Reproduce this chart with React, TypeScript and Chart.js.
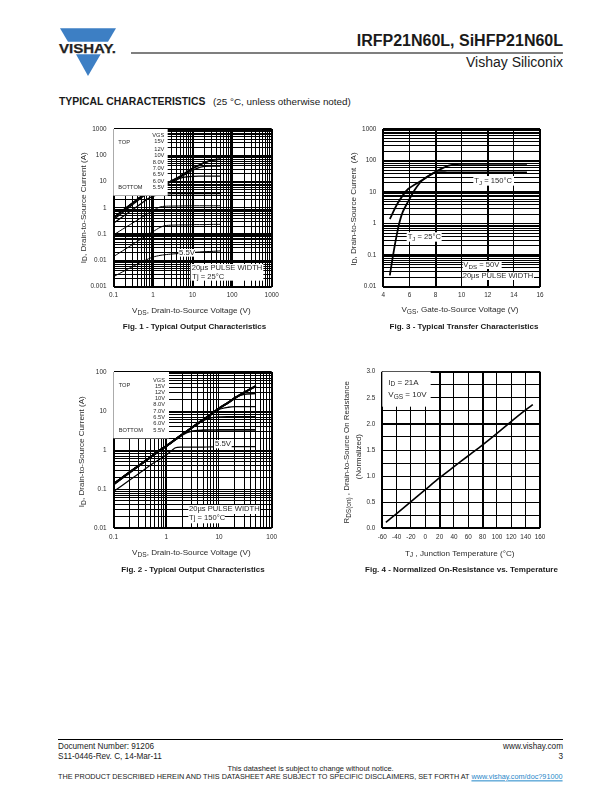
import React, { useEffect, useRef } from "react";
import { Chart, registerables } from "chart.js";

Chart.register(...registerables);

const FONT = '"Liberation Sans", Arial, sans-serif';

// ---------- Fig. 1 ----------
const fig1Vds = [0.1, 0.2, 0.3, 0.5, 0.7, 1, 1.5, 2, 3, 5, 7, 10, 15, 20, 30, 50];
const fig1V55 = [0.0024, 0.0042, 0.0058, 0.0085, 0.0108, 0.0135, 0.0155, 0.0165, 0.0175, 0.0185, 0.019, 0.02, 0.021, 0.0215, 0.022, 0.023];
const fig1V60 = [0.014, 0.027, 0.04, 0.065, 0.09, 0.125, 0.18, 0.21, 0.22, 0.225, 0.225, 0.23, 0.23, 0.23, 0.235, 0.235];
const fig1V65 = [0.093, 0.18, 0.26, 0.42, 0.58, 0.8, 1.08, 1.15, 1.17, 1.18, 1.19, 1.2, 1.2, 1.2, 1.2, 1.2];
const fig1V70 = [0.26, 0.55, 0.85, 1.45, 2.1, 2.8, 3.2, 3.35, 3.45, 3.5, 3.5, 3.5, 3.5, 3.5, 3.5, 3.5];
const fig1V80 = [0.36, 0.8, 1.3, 2.4, 3.4, 4.7, 6.4, 7.8, 10, 13.5, 15, 15.8, 16, 16, 16, 16];
const fig1V10 = [0.42, 0.95, 1.5, 2.7, 3.8, 5, 6.8, 7.9, 10.5, 15, 20, 27, 35, 38, 39, 39];
const fig1V12 = [0.42, 0.95, 1.5, 2.7, 3.8, 5, 6.8, 8, 10.8, 16, 22, 31, 42, 51, 63, 70];
const fig1V15 = [0.42, 0.95, 1.5, 2.7, 3.8, 5, 6.8, 8, 10.9, 16.5, 23, 32, 43, 53, 65, 72];
const fig1XLabels = [0.1, 1, 10, 100, 1000];
const fig1YLabels = [0.001, 0.01, 0.1, 1, 10, 100, 1000];

// ---------- Fig. 2 ----------
const fig2Vds = [0.1, 0.2, 0.3, 0.5, 0.7, 1, 1.5, 2, 3, 5, 7, 10, 15, 20, 30, 50];
const fig2V55 = [0.087, 0.17, 0.25, 0.41, 0.55, 0.75, 1.15, 1.19, 1.2, 1.2, 1.21, 1.22, 1.22, 1.23, 1.23, 1.23];
const fig2V60 = [0.13, 0.26, 0.39, 0.64, 0.9, 1.25, 1.85, 2.45, 3.05, 3.25, 3.28, 3.3, 3.3, 3.3, 3.3, 3.3];
const fig2V65 = [0.135, 0.27, 0.4, 0.66, 0.92, 1.28, 1.9, 2.5, 3.7, 5.7, 6.7, 7.1, 7.2, 7.2, 7.2, 7.2];
const fig2V70 = [0.136, 0.27, 0.4, 0.66, 0.92, 1.28, 1.9, 2.5, 3.7, 6, 8, 11, 12.5, 13, 13, 13];
const fig2V80 = [0.136, 0.27, 0.4, 0.66, 0.92, 1.28, 1.9, 2.5, 3.7, 6, 8.2, 11.5, 16.5, 22, 27, 28];
const fig2V10 = [0.136, 0.27, 0.4, 0.66, 0.92, 1.28, 1.9, 2.5, 3.7, 6, 8.2, 11.6, 16.5, 21.5, 30, 43];
const fig2V12 = [0.136, 0.27, 0.4, 0.66, 0.92, 1.28, 1.9, 2.5, 3.7, 6, 8.2, 11.7, 16.5, 21.5, 30, 44];
const fig2V15 = [0.136, 0.27, 0.4, 0.66, 0.92, 1.28, 1.9, 2.5, 3.7, 6, 8.2, 11.8, 16.5, 21.5, 30, 44];
const fig2XLabels = [0.1, 1, 10, 100];
const fig2YLabels = [0.01, 0.1, 1, 10, 100];

// ---------- Fig. 3 ----------
const fig3Tj25Vgs = [4.5, 4.75, 5, 5.25, 5.5, 5.9, 6.4, 7, 8, 9, 10, 11, 15];
const fig3Tj25Id = [0.023, 0.1, 0.38, 1.15, 2.4, 5, 11.7, 24, 44, 69, 78, 78, 78];
const fig3Tj150Vgs = [4.5, 5.1, 5.9, 7, 8, 9, 10, 15];
const fig3Tj150Id = [1.4, 4.4, 12.5, 24, 42, 42, 42, 42];
const fig3XTicks = [4, 6, 8, 10, 12, 14, 16];
const fig3YLabels = [0.01, 0.1, 1, 10, 100, 1000];

// ---------- Fig. 4 ----------
const fig4Temp = [-55, -40, -20, 0, 20, 40, 60, 80, 100, 120, 140, 150];
const fig4Rds = [0.115, 0.28, 0.51, 0.74, 0.97, 1.18, 1.39, 1.6, 1.82, 2.05, 2.27, 2.37];
const fig4XTicks = [-60, -40, -20, 0, 20, 40, 60, 80, 100, 120, 140, 160];
const fig4YTicks = [0, 0.25, 0.5, 0.75, 1, 1.25, 1.5, 1.75, 2, 2.25, 2.5, 2.75, 3];
const fig4YLabelled = [0, 0.5, 1, 1.5, 2, 2.5, 3];

// ---------- overlay helpers (positions in 3x crop units, canvas px = n / 3) ----------
type Seg = { t: string; sub?: boolean };
type Rich = { segs: Seg[]; x: number; y: number; size: number; align?: "left" | "right" | "center"; rot?: boolean };
type Box = [number, number, number, number];

const S = (t: string) => ({ t });
const B = (t: string) => ({ t, sub: true });

function richWidth(ctx: CanvasRenderingContext2D, segs: Seg[], size: number) {
  let w = 0;
  for (const s of segs) {
    ctx.font = `${s.sub ? size * 0.82 : size}px ${FONT}`;
    w += ctx.measureText(s.t).width;
  }
  return w;
}

function drawRich(ctx: CanvasRenderingContext2D, r: Rich) {
  ctx.save();
  ctx.translate(r.x / 3, r.y / 3);
  if (r.rot) ctx.rotate(-Math.PI / 2);
  const w = richWidth(ctx, r.segs, r.size);
  let x = r.align === "right" ? -w : r.align === "center" ? -w / 2 : 0;
  ctx.fillStyle = "#2a2a2a";
  ctx.textBaseline = "middle";
  ctx.textAlign = "left";
  for (const s of r.segs) {
    ctx.font = `${s.sub ? r.size * 0.82 : r.size}px ${FONT}`;
    ctx.fillText(s.t, x, s.sub ? r.size * 0.28 : 0);
    x += ctx.measureText(s.t).width;
  }
  ctx.restore();
}

function overlayPlugin(boxes: Box[], texts: Rich[]) {
  return {
    id: "overlay",
    afterDatasetsDraw(chart: any) {
      const ctx = chart.ctx as CanvasRenderingContext2D;
      ctx.save();
      ctx.fillStyle = "#fff";
      for (const [x0, y0, x1, y1] of boxes) ctx.fillRect(x0 / 3, y0 / 3, (x1 - x0) / 3, (y1 - y0) / 3);
      for (const t of texts) drawRich(ctx, t);
      ctx.restore();
    },
  };
}

function legendTexts(leftX: number, rightX: number, topY: number, bottomY: number, ys: number[]): Rich[] {
  const names = ["VGS", "15V", "12V", "10V", "8.0V", "7.0V", "6.5V", "6.0V", "5.5V"];
  const out: Rich[] = [
    { segs: [S("TOP")], x: leftX, y: topY, size: 5.7 },
    { segs: [S("BOTTOM")], x: leftX, y: bottomY, size: 5.7 },
  ];
  names.forEach((n, i) => out.push({ segs: [S(n)], x: rightX, y: ys[i], size: 5.7, align: "right" }));
  return out;
}

function logGrid(labels: number[]) {
  const v: number[] = [];
  for (let i = 0; i < labels.length - 1; i++) for (let m = 1; m <= 9; m++) v.push(labels[i] * m);
  v.push(labels[labels.length - 1]);
  return v;
}

const near = (a: number, b: number) => Math.abs(a - b) <= Math.abs(b) * 1e-6;

type AxisDef = {
  type: "logarithmic" | "linear";
  min: number;
  max: number;
  ticks: number[];
  labels: number[];
  thick: number[];
  fmt?: (v: number) => string;
};

function axis(def: AxisDef, fit: (s: any) => void, padding: number) {
  return {
    type: def.type,
    min: def.min,
    max: def.max,
    afterBuildTicks: (s: any) => {
      s.ticks = def.ticks.map((value) => ({ value }));
    },
    afterFit: fit,
    border: { display: false },
    grid: {
      color: "#000",
      drawTicks: false,
      lineWidth: (c: any) => (def.thick.some((t) => near(c.tick.value, t)) ? 2 : 1),
    },
    ticks: {
      autoSkip: false,
      maxRotation: 0,
      minRotation: 0,
      padding,
      color: "#2a2a2a",
      font: { family: FONT, size: 6.4 },
      callback: (v: number) => {
        const hit = def.labels.find((l) => near(v, l));
        return hit === undefined ? "" : def.fmt ? def.fmt(hit) : String(hit);
      },
    },
  };
}

type PlotBox = { l: number; t: number; r: number; b: number };

function ChartCanvas(props: {
  x: number; y: number; w: number; h: number; plot: PlotBox;
  datasets: any[]; xAxis: AxisDef; yAxis: AxisDef; boxes: Box[]; texts: Rich[];
}) {
  const ref = useRef<HTMLCanvasElement>(null);
  useEffect(() => {
    const { w, h, plot } = props;
    const chart = new Chart(ref.current!, {
      type: "line",
      data: { datasets: props.datasets },
      options: {
        animation: false,
        responsive: false,
        parsing: false as any,
        normalized: true,
        layout: { padding: { left: 0, top: plot.t, right: w - plot.r, bottom: 0 } },
        plugins: { legend: { display: false }, tooltip: { enabled: false } },
        elements: { point: { radius: 0 } },
        scales: {
          x: axis(props.xAxis, (s: any) => { s.height = h - plot.b; }, 5) as any,
          y: axis(props.yAxis, (s: any) => { s.width = plot.l; }, 7) as any,
        },
      },
      plugins: [overlayPlugin(props.boxes, props.texts)],
    });
    return () => chart.destroy();
  }, []);
  return (
    <canvas
      ref={ref}
      width={props.w}
      height={props.h}
      style={{ position: "absolute", left: props.x, top: props.y, width: props.w, height: props.h }}
    />
  );
}

const series = (xs: number[], ys: number[], width = 1.5) => ({
  data: xs.map((x, i) => ({ x, y: ys[i] })),
  borderColor: "#000",
  borderWidth: width,
  pointRadius: 0,
  tension: 0.25,
  fill: false,
});

const f2 = (v: number) => v.toFixed(1);

// ---------- chart specs ----------
const fig1Datasets = [
  series(fig1Vds, fig1V55, 1),
  series(fig1Vds, fig1V60, 1),
  series(fig1Vds, fig1V65, 1),
  series(fig1Vds, fig1V70, 1.3),
  series(fig1Vds, fig1V80, 1.3),
  series(fig1Vds, fig1V10, 1.3),
  series(fig1Vds, fig1V12, 1.3),
  series(fig1Vds, fig1V15, 1.6),
];
const fig2Datasets = [
  series(fig2Vds, fig2V55, 1.2),
  series(fig2Vds, fig2V60, 1.6),
  series(fig2Vds, fig2V65, 1.4),
  series(fig2Vds, fig2V70, 1.4),
  series(fig2Vds, fig2V80, 1.4),
  series(fig2Vds, fig2V10, 1.8),
  series(fig2Vds, fig2V12, 1.8),
  series(fig2Vds, fig2V15, 2),
];
const fig3Datasets = [series(fig3Tj25Vgs, fig3Tj25Id, 1.8), series(fig3Tj150Vgs, fig3Tj150Id, 1.8)];
const fig4Datasets = [series(fig4Temp, fig4Rds, 1.6)];

const pulse = "20\u00b5s PULSE WIDTH";

const fig1Boxes: Box[] = [[160, 42, 323, 242], [355, 402, 405, 425], [392, 447, 610, 497]];
const fig1Texts: Rich[] = [
  ...legendTexts(175, 313, 83, 217, [62, 80, 102, 120, 143, 160, 178, 198, 216]),
  { segs: [S("5.5V")], x: 357, y: 413, size: 7.8 },
  { segs: [S(pulse)], x: 395, y: 458, size: 7.6 },
  { segs: [S("Tj = 25\u00b0C")], x: 397, y: 485, size: 7.6 },
  { segs: [S("V"), B("DS"), S(", Drain-to-Source Voltage (V)")], x: 394, y: 587, size: 8.1, align: "center" },
  { segs: [S("I"), B("D"), S(", Drain-to-Source Current (A)")], x: 70, y: 278, size: 8.1, align: "center", rot: true },
];

const fig2Boxes: Box[] = [[160, 36, 327, 235], [462, 240, 515, 265], [385, 435, 600, 462], [385, 462, 495, 490]];
const fig2Texts: Rich[] = [
  ...legendTexts(176, 315, 75, 212, [60, 78, 98, 116, 132, 155, 172, 190, 212]),
  { segs: [S("5.5V")], x: 465, y: 252, size: 7.8 },
  { segs: [S(pulse)], x: 387, y: 447, size: 7.6 },
  { segs: [S("Tj = 150\u00b0C")], x: 387, y: 474, size: 7.6 },
  { segs: [S("V"), B("DS"), S(", Drain-to-Source Voltage (V)")], x: 394, y: 578, size: 8.1, align: "center" },
  { segs: [S("I"), B("D"), S(", Drain-to-Source Current (A)")], x: 65, y: 275, size: 8.1, align: "center", rot: true },
];

const fig3Boxes: Box[] = [[400, 183, 522, 212], [200, 352, 305, 380], [368, 438, 485, 462], [368, 472, 582, 495]];
const fig3Texts: Rich[] = [
  { segs: [S("T"), B("J"), S(" = 150\u00b0C")], x: 403, y: 197, size: 7.6 },
  { segs: [S("T"), B("J"), S(" = 25\u00b0C")], x: 203, y: 365, size: 7.6 },
  { segs: [S("V"), B("DS"), S(" = 50V")], x: 370, y: 450, size: 7.6 },
  { segs: [S(pulse)], x: 368, y: 483, size: 7.6 },
  { segs: [S("V"), B("GS"), S(", Gate-to-Source Voltage (V)")], x: 360, y: 584, size: 8.1, align: "center" },
  { segs: [S("I"), B("D"), S(", Drain-to-Source Current  (A)")], x: 40, y: 282, size: 8.1, align: "center", rot: true },
];

const fig4Boxes: Box[] = [[127, 35, 272, 140]];
const fig4Texts: Rich[] = [
  { segs: [S("I"), B("D"), S(" = 21A")], x: 145, y: 67, size: 8 },
  { segs: [S("V"), B("GS"), S(" = 10V")], x: 145, y: 105, size: 8 },
  { segs: [S("T"), B("J"), S(" , Junction Temperature (\u00b0C)")], x: 359, y: 580, size: 8.1, align: "center" },
  { segs: [S("R"), B("DS(on)"), S(" , Drain-to-Source On Resistance")], x: 20, y: 277, size: 7.9, align: "center", rot: true },
  { segs: [S("(Normalized)")], x: 55, y: 290, size: 7.9, align: "center", rot: true },
];

const T = (p: { x: number; y: number; size: number; bold?: boolean; right?: boolean; center?: boolean; color?: string; children: React.ReactNode; spacing?: number }) => (
  <span
    style={{
      position: "absolute",
      top: p.y,
      left: p.right ? undefined : p.x,
      right: p.right ? 612 - p.x : undefined,
      transform: p.center ? "translate(-50%,-50%)" : "translateY(-50%)",
      fontFamily: FONT,
      fontSize: p.size,
      fontWeight: p.bold ? 700 : 400,
      color: p.color ?? "#1a1a1a",
      whiteSpace: "nowrap",
      lineHeight: 1,
      letterSpacing: p.spacing,
    }}
  >
    {p.children}
  </span>
);

export default function App() {
  return (
    <div style={{ position: "absolute", left: 0, top: 0, width: 612, height: 792, background: "#fff", overflow: "hidden" }}>
      <svg width={612} height={90} style={{ position: "absolute", left: 0, top: 0 }}>
        <polygon points="60,28.3 116,28.3 108,41.7 68,41.7" fill="#3d7fc4" />
        <polygon points="76,54.3 100.7,54.3 88,76" fill="#3d7fc4" />
        <text x={59} y={52.7} fontFamily={FONT} fontWeight={700} fontSize={13.4} fill="#222" stroke="#222" strokeWidth={0.25} textLength={57} lengthAdjust="spacingAndGlyphs">VISHAY.</text>
        <rect x={131} y={52.5} width={432} height={1} fill="#000" />
      </svg>
      <T x={563} y={40.5} size={16} bold right>IRFP21N60L, SiHFP21N60L</T>
      <T x={563} y={62} size={14} right>Vishay Siliconix</T>
      <T x={59} y={102} size={10.4} bold>TYPICAL CHARACTERISTICS</T>
      <T x={213} y={102} size={9.9}>(25 °C, unless otherwise noted)</T>

      <ChartCanvas
        x={60} y={115} w={230} h={225}
        plot={{ l: 53.5, t: 14, r: 211.7, b: 171.7 }}
        datasets={fig1Datasets}
        xAxis={{ type: "logarithmic", min: 0.1, max: 1000, ticks: logGrid(fig1XLabels), labels: fig1XLabels, thick: [0.1, 1, 10, 100, 1000] }}
        yAxis={{ type: "logarithmic", min: 0.001, max: 1000, ticks: logGrid(fig1YLabels), labels: fig1YLabels, thick: [0.001, 0.1, 10, 1000] }}
        boxes={fig1Boxes}
        texts={fig1Texts}
      />
      <ChartCanvas
        x={340} y={115} w={220} h={225}
        plot={{ l: 43.3, t: 14, r: 200, b: 171.7 }}
        datasets={fig3Datasets}
        xAxis={{ type: "linear", min: 4, max: 16, ticks: fig3XTicks, labels: fig3XTicks, thick: [4, 8, 12, 16] }}
        yAxis={{ type: "logarithmic", min: 0.01, max: 1000, ticks: logGrid(fig3YLabels), labels: fig3YLabels, thick: [0.01, 0.1, 10, 1000] }}
        boxes={fig3Boxes}
        texts={fig3Texts}
      />
      <ChartCanvas
        x={60} y={360} w={230} h={225}
        plot={{ l: 53.5, t: 12, r: 211.7, b: 168.3 }}
        datasets={fig2Datasets}
        xAxis={{ type: "logarithmic", min: 0.1, max: 100, ticks: logGrid(fig2XLabels), labels: fig2XLabels, thick: [0.1, 1, 100] }}
        yAxis={{ type: "logarithmic", min: 0.01, max: 100, ticks: logGrid(fig2YLabels), labels: fig2YLabels, thick: [0.01, 100] }}
        boxes={fig2Boxes}
        texts={fig2Texts}
      />
      <ChartCanvas
        x={340} y={360} w={220} h={225}
        plot={{ l: 42.3, t: 11.7, r: 200, b: 168.3 }}
        datasets={fig4Datasets}
        xAxis={{ type: "linear", min: -60, max: 160, ticks: fig4XTicks, labels: fig4XTicks, thick: [-60, 20, 80, 160] }}
        yAxis={{ type: "linear", min: 0, max: 3, ticks: fig4YTicks, labels: fig4YLabelled, thick: [0, 2, 3], fmt: f2 }}
        boxes={fig4Boxes}
        texts={fig4Texts}
      />

      <T x={194.5} y={327} size={8} bold center>Fig. 1 - Typical Output Characteristics</T>
      <T x={464} y={327} size={8} bold center>Fig. 3 - Typical Transfer Characteristics</T>
      <T x={193} y={570} size={8} bold center>Fig. 2 - Typical Output Characteristics</T>
      <T x={461.5} y={570} size={8} bold center>Fig. 4 - Normalized On-Resistance vs. Temperature</T>

      <div style={{ position: "absolute", left: 58, top: 739, width: 505, height: 1, background: "#000" }} />
      <T x={58} y={747} size={8.2}>Document Number: 91206</T>
      <T x={563} y={747} size={8.2} right>www.vishay.com</T>
      <T x={58} y={757} size={8.2}>S11-0446-Rev. C, 14-Mar-11</T>
      <T x={563} y={757} size={8.2} right>3</T>
      <T x={310.5} y={768.5} size={7.45} center>This datasheet is subject to change without notice.</T>
      <T x={58} y={776.5} size={7.27}>
        THE PRODUCT DESCRIBED HEREIN AND THIS DATASHEET ARE SUBJECT TO SPECIFIC DISCLAIMERS, SET FORTH AT{" "}
        <span style={{ color: "#1f86c8", textDecoration: "underline" }}>www.vishay.com/doc?91000</span>
      </T>
    </div>
  );
}
